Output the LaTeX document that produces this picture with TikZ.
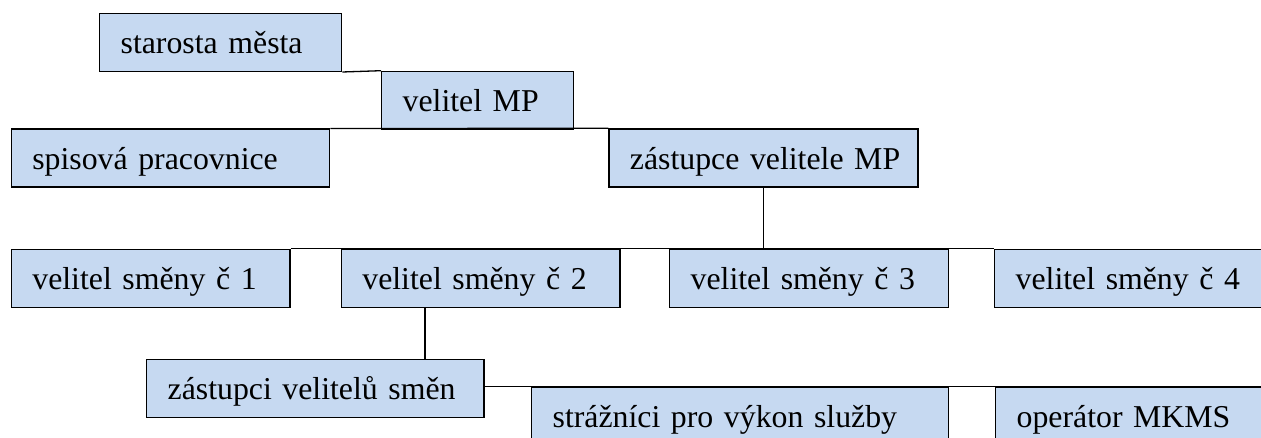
\documentclass[tikz,border=0pt]{standalone}
\usepackage{fontspec}
\setmainfont{Liberation Serif}
\definecolor{boxfill}{HTML}{C6D9F1}
\tikzset{
  orgbox/.style={draw=black, line width=0.65pt, fill=boxfill, anchor=north west,
    inner xsep=10.5pt, inner ysep=0pt, text height=20.3pt, text depth=8.7pt,
    text width=#1, align=left, font=\fontsize{15.9}{19}\selectfont},
  link/.style={draw=black, line width=0.65pt}
}
\begin{document}
\begin{tikzpicture}[x=0.5pt,y=-0.5pt]
\clip (0,0) rectangle (1261,438);
\fill[white] (0,0) rectangle (1261,438);
% level 1-2
\node[orgbox=100pt] (st) at (99,12.7) {\mbox{starosta města}};
\node[orgbox=75pt] (vmp) at (381,70.7) {\mbox{velitel MP}};
\node[orgbox=138.15pt] (sp) at (10.7,128.5) {\mbox{spisová pracovnice}};
\node[orgbox=133.5pt] (zvmp) at (608.3,128.3) {\mbox{zástupce velitele MP}};
% shift commanders
\node[orgbox=118.3pt] (v1) at (10.7,248.5) {\mbox{velitel směny č 1}};
\node[orgbox=118.3pt] (v2) at (340.7,248.5) {\mbox{velitel směny č 2}};
\node[orgbox=118.35pt] (v3) at (669,248.5) {\mbox{velitel směny č 3}};
\node[orgbox=119pt] (v4) at (994,248.5) {\mbox{velitel směny č 4}};
% lower levels
\node[orgbox=147.65pt] (zs) at (146,358.7) {\mbox{zástupci velitelů směn}};
\node[orgbox=187.35pt] (str) at (531,386.3) {\mbox{strážníci pro výkon služby}};
\node[orgbox=119pt] (op) at (995,386.3) {\mbox{operátor MKMS}};
% connectors
\draw[link] (st.south east) -- (vmp.north west);
\draw[link] (sp.north east) -- (zvmp.north west);
\draw[link] (zvmp.south) -- (zvmp.south |- v3.north);
\draw[link] (v1.north east) -- (v4.north west);
\coordinate (c2) at ([xshift=42.15pt]v2.south west);
\draw[link] (c2) -- (c2 |- zs.north);
\draw[link] (str.north west -| zs.east) -- (op.north west);
\end{tikzpicture}
\end{document}
